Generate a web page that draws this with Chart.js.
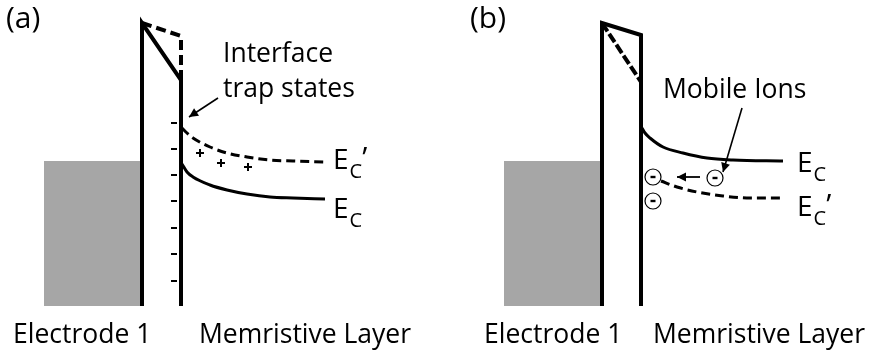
<!DOCTYPE html>
<html>
<head>
<meta charset="utf-8">
<script src="https://cdn.jsdelivr.net/npm/chart.js@4/dist/chart.umd.min.js"></script>
<style>
  html, body { margin: 0; padding: 0; background: #fff; }
  #diagram { display: block; }
</style>
</head>
<body>
<canvas id="diagram" width="875" height="353"></canvas>
<script>
// Band diagram of the interface, two panels drawn on one linear x/y plane
// (units = picture units, y grows downwards)

// ---- panel (a) : interface trap states ----
const aMetal = [{x: 44, y: 161}, {x: 141, y: 161}];
const aBarrier = [{x: 142, y: 306}, {x: 142, y: 23}, {x: 181, y: 80}, {x: 181, y: 306}];
const aBarrierShift = [{x: 142, y: 23}, {x: 181, y: 36}, {x: 181, y: 80}];
const aEcShift = [
  {x: 182, y: 128}, {x: 187, y: 133}, {x: 193, y: 138}, {x: 210, y: 147}, {x: 227, y: 153},
  {x: 247, y: 157}, {x: 270, y: 160}, {x: 293, y: 161}, {x: 325, y: 162}
];
const aEc = [
  {x: 182, y: 164}, {x: 187, y: 172}, {x: 193, y: 177}, {x: 210, y: 185}, {x: 227, y: 190},
  {x: 247, y: 194}, {x: 270, y: 197}, {x: 293, y: 198}, {x: 325, y: 199}
];
const aTraps = [123, 149, 175, 201, 228, 254, 281].map(v => ({x: 174, y: v}));
const aCharges = [{x: 200, y: 153}, {x: 221, y: 163}, {x: 248, y: 167}];
const aPointer = [{x: 218, y: 98}, {x: 189, y: 117}];

// ---- panel (b) : mobile ions ----
const bMetal = [{x: 504, y: 161}, {x: 600, y: 161}];
const bBarrier = [{x: 602, y: 306}, {x: 602, y: 23}, {x: 641, y: 35}, {x: 641, y: 306}];
const bBarrierShift = [{x: 602, y: 23}, {x: 641, y: 82}];
const bEc = [
  {x: 642, y: 128}, {x: 645, y: 133}, {x: 650, y: 138}, {x: 663, y: 147}, {x: 683, y: 153},
  {x: 707, y: 158}, {x: 733, y: 160}, {x: 783, y: 161}
];
const bEcShift = [
  {x: 661, y: 181}, {x: 677, y: 187}, {x: 697, y: 192}, {x: 723, y: 196}, {x: 750, y: 198}, {x: 783, y: 198}
];
const bIons = [{x: 653, y: 177}, {x: 653, y: 201}, {x: 715, y: 178}];
const bIonDrift = [{x: 700, y: 177}, {x: 677, y: 177}];
const bPointer = [{x: 742, y: 108}, {x: 723, y: 172}];

const metalBottom = 306;

// texts
const FONT = '"Open Sans", "DejaVu Sans", sans-serif';
const textLabels = [
  {text: '(a)', x: 6, y: 28, size: 30},
  {text: 'Interface', x: 223, y: 62, size: 26.5},
  {text: 'trap states', x: 223, y: 97, size: 26.5},
  {text: 'Electrode 1', x: 13, y: 343, size: 26.5},
  {text: 'Memristive Layer', x: 199, y: 343, size: 26.5},
  {text: '(b)', x: 470, y: 28, size: 30},
  {text: 'Mobile Ions', x: 663, y: 98, size: 26.5},
  {text: 'Electrode 1', x: 484, y: 343, size: 26.5},
  {text: 'Memristive Layer', x: 653, y: 343, size: 26.5}
];
const levelLabels = [
  {x: 333, y: 169, prime: true},
  {x: 333, y: 218, prime: false},
  {x: 797, y: 172, prime: false},
  {x: 797, y: 216, prime: true}
];

const solid = (data, width, order) => ({
  data, borderColor: '#000', borderWidth: width, pointRadius: 0,
  borderJoinStyle: 'miter', fill: false, order
});
const dashed = (data, width, dash, order) => ({
  ...solid(data, width, order), borderDash: dash
});
const curve = (data, dash) => ({
  ...solid(data, 3, 3), borderDash: dash || [], cubicInterpolationMode: 'monotone'
});
const metal = (data) => ({
  data, borderWidth: 0, pointRadius: 0, backgroundColor: '#a6a6a6',
  fill: {value: metalBottom}, order: 10
});
const marks = (data, style, radius, width, extra) => ({
  data, showLine: false, pointStyle: style, pointRadius: radius, pointHoverRadius: radius,
  pointBorderWidth: width, pointBorderColor: '#000', pointBackgroundColor: '#000', order: 2, ...extra
});

// arrowheads at the end of datasets flagged with arrow
const arrowPlugin = {
  id: 'arrowHeads',
  afterDatasetsDraw(chart) {
    const ctx = chart.ctx;
    chart.data.datasets.forEach((ds, i) => {
      if (!ds.arrow) return;
      const pts = chart.getDatasetMeta(i).data;
      const a = pts[pts.length - 2], b = pts[pts.length - 1];
      const ang = Math.atan2(b.y - a.y, b.x - a.x);
      const len = 9, half = 4.5;
      ctx.save();
      ctx.fillStyle = '#000';
      ctx.beginPath();
      ctx.moveTo(b.x, b.y);
      ctx.lineTo(b.x - len * Math.cos(ang) + half * Math.sin(ang), b.y - len * Math.sin(ang) - half * Math.cos(ang));
      ctx.lineTo(b.x - len * Math.cos(ang) - half * Math.sin(ang), b.y - len * Math.sin(ang) + half * Math.cos(ang));
      ctx.closePath();
      ctx.fill();
      ctx.restore();
    });
  }
};

// text labels, E_C labels with subscript
const textPlugin = {
  id: 'diagramText',
  afterDraw(chart) {
    const {ctx, scales: {x, y}} = chart;
    ctx.save();
    ctx.fillStyle = '#000';
    ctx.textBaseline = 'alphabetic';
    ctx.textAlign = 'left';
    textLabels.forEach(t => {
      ctx.font = t.size + 'px ' + FONT;
      ctx.fillText(t.text, x.getPixelForValue(t.x), y.getPixelForValue(t.y));
    });
    levelLabels.forEach(l => {
      let px = x.getPixelForValue(l.x);
      const py = y.getPixelForValue(l.y);
      ctx.font = '28px ' + FONT;
      ctx.fillText('E', px, py);
      px += ctx.measureText('E').width + 1;
      ctx.font = '20px ' + FONT;
      ctx.fillText('C', px, py + 9);
      px += ctx.measureText('C').width;
      if (l.prime) {
        ctx.font = '30px ' + FONT;
        ctx.fillText('\u2019', px, py - 1);
      }
    });
    ctx.restore();
  }
};

new Chart(document.getElementById('diagram'), {
  type: 'line',
  data: {
    datasets: [
      metal(aMetal),
      metal(bMetal),
      solid(aBarrier, 4, 4),
      dashed(aBarrierShift, 4, [10, 5], 4),
      solid(bBarrier, 4, 4),
      dashed(bBarrierShift, 4, [10, 3], 4),
      curve(aEc),
      curve(aEcShift, [9, 5]),
      curve(bEc),
      curve(bEcShift, [9, 5]),
      marks(aTraps, 'line', 3, 2),
      marks(aCharges, 'cross', 4, 2),
      {...solid(aPointer, 1.6, 3), arrow: true},
      {...solid(bPointer, 1.6, 3), arrow: true},
      {...solid(bIonDrift, 1.8, 3), arrow: true},
      marks(bIons, 'circle', 8, 1.2, {pointBackgroundColor: '#fff', order: 1}),
      marks(bIons, 'line', 2.5, 2.4, {order: 0})
    ]
  },
  options: {
    responsive: false,
    animation: false,
    events: [],
    layout: {padding: 0, autoPadding: false},
    scales: {
      x: {type: 'linear', min: 0, max: 875, display: false},
      y: {type: 'linear', min: 0, max: 353, reverse: true, display: false}
    },
    plugins: {
      legend: {display: false},
      tooltip: {enabled: false}
    }
  },
  plugins: [arrowPlugin, textPlugin]
});
</script>
</body>
</html>
